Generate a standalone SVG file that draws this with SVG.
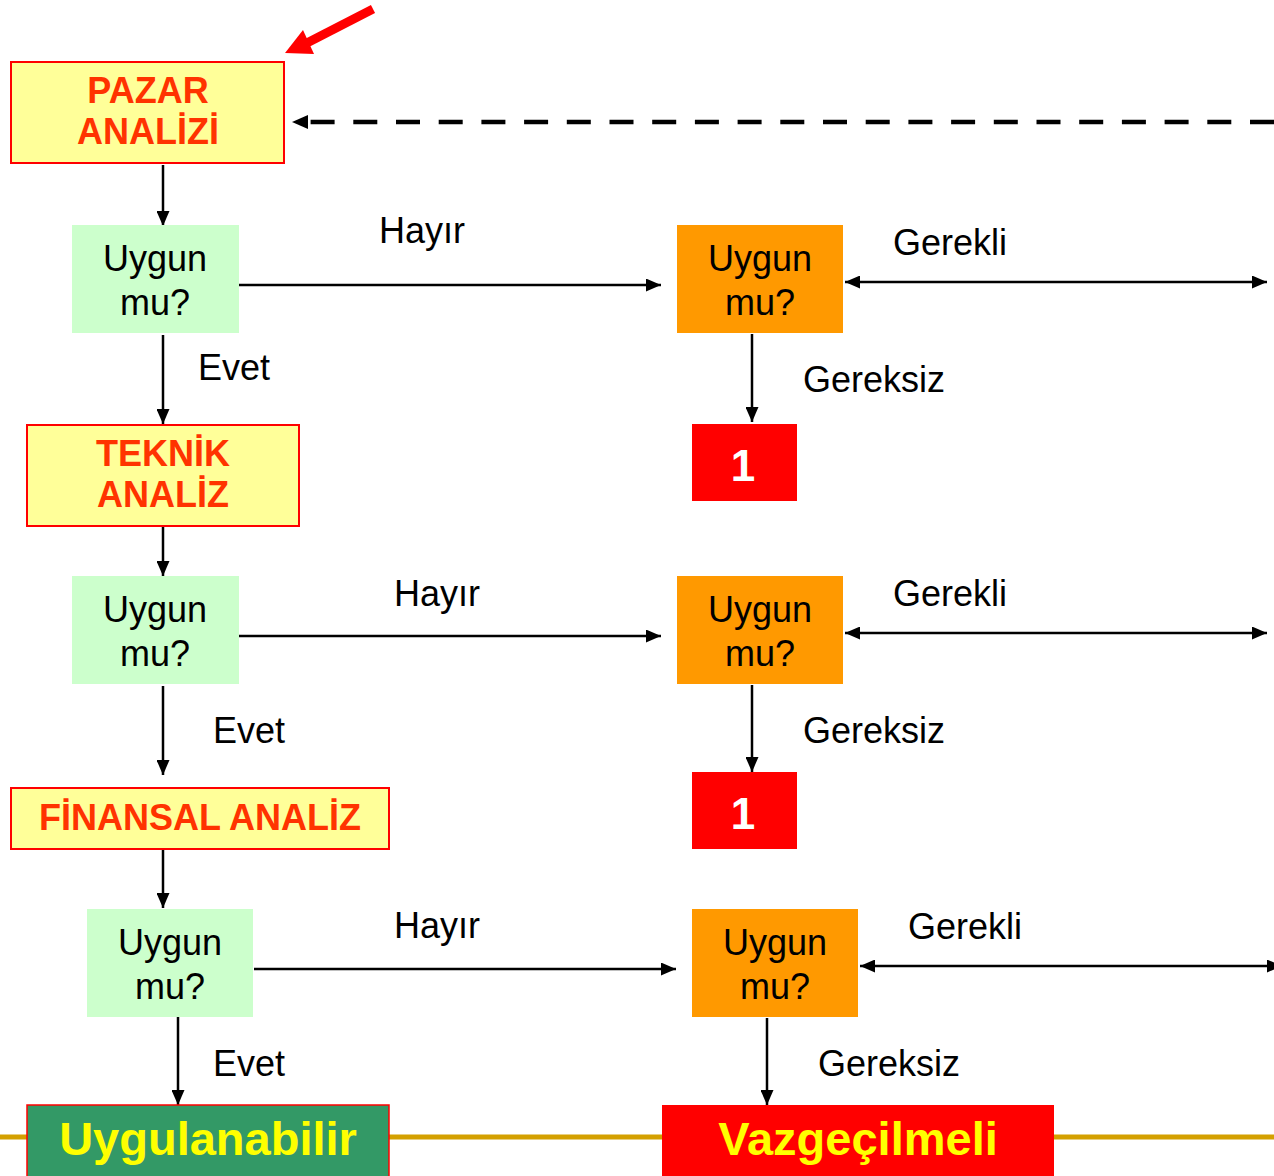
<svg xmlns="http://www.w3.org/2000/svg" width="1274" height="1176" viewBox="0 0 1274 1176">
<style>
.lbl{font-family:"Liberation Sans",Arial,sans-serif;font-size:36px;fill:#000}
.cen{text-anchor:middle}
.ana{font-family:"Liberation Sans",Arial,sans-serif;font-size:36px;font-weight:bold;fill:#FF3300;text-anchor:middle}
.big{font-family:"Liberation Sans",Arial,sans-serif;font-size:47px;font-weight:bold;fill:#FFFF00;text-anchor:middle}
.one{font-family:"Liberation Sans",Arial,sans-serif;font-size:44px;font-weight:bold;fill:#FFFFFF;text-anchor:middle}
.ybox{fill:#FFFF99;stroke:#FF0000;stroke-width:2}
.gbox{fill:#CCFFCC}
.obox{fill:#FF9900}
.rbox{fill:#FF0000}
.con{stroke:#000;stroke-width:2.5;fill:none}
</style>
<defs>
<marker id="ah" viewBox="0 0 15 13" refX="15" refY="6.5" markerWidth="15" markerHeight="13" markerUnits="userSpaceOnUse" orient="auto-start-reverse">
<path d="M0,0 L15,6.5 L0,13 Z" fill="#000"/>
</marker>
<marker id="ahd" viewBox="0 0 16 14" refX="16" refY="7" markerWidth="16" markerHeight="14" markerUnits="userSpaceOnUse" orient="auto">
<path d="M0,0 L16,7 L0,14 Z" fill="#000"/>
</marker>
</defs>

<line x1="0" y1="1137" x2="1274" y2="1137" stroke="#D4A000" stroke-width="5"/>

<g id="connectors">
<line class="con" x1="163" y1="165" x2="163" y2="226" marker-end="url(#ah)"/>
<line class="con" x1="163" y1="335" x2="163" y2="424" marker-end="url(#ah)"/>
<line class="con" x1="163" y1="527" x2="163" y2="576" marker-end="url(#ah)"/>
<line class="con" x1="163" y1="686" x2="163" y2="775" marker-end="url(#ah)"/>
<line class="con" x1="163" y1="850" x2="163" y2="908" marker-end="url(#ah)"/>
<line class="con" x1="178" y1="1017" x2="178" y2="1105" marker-end="url(#ah)"/>
<line class="con" x1="239" y1="285" x2="661" y2="285" marker-end="url(#ah)"/>
<line class="con" x1="239" y1="636" x2="661" y2="636" marker-end="url(#ah)"/>
<line class="con" x1="254" y1="969" x2="676" y2="969" marker-end="url(#ah)"/>
<line class="con" x1="845" y1="282" x2="1267" y2="282" marker-start="url(#ah)" marker-end="url(#ah)"/>
<line class="con" x1="845" y1="633" x2="1267" y2="633" marker-start="url(#ah)" marker-end="url(#ah)"/>
<line class="con" x1="860" y1="966" x2="1282" y2="966" marker-start="url(#ah)" marker-end="url(#ah)"/>
<line class="con" x1="752" y1="334" x2="752" y2="422" marker-end="url(#ah)"/>
<line class="con" x1="752" y1="685" x2="752" y2="772" marker-end="url(#ah)"/>
<line class="con" x1="767" y1="1018" x2="767" y2="1105" marker-end="url(#ah)"/>
<line x1="1274" y1="122" x2="292" y2="122" stroke="#000" stroke-width="4.5" stroke-dasharray="24 18.7" marker-end="url(#ahd)"/>
<line x1="373" y1="9" x2="303" y2="45" stroke="#FF0000" stroke-width="9"/>
<polygon points="285,53 303,30 314,54" fill="#FF0000"/>
</g>

<g id="pazar"><rect class="ybox" x="11" y="62" width="273" height="101"/><text class="ana" x="148" y="103">PAZAR</text><text class="ana" x="148" y="144">ANALİZİ</text></g>
<g id="uygun1"><rect class="gbox" x="72" y="225" width="167" height="108"/><text class="lbl cen" x="155" y="271">Uygun</text><text class="lbl cen" x="155" y="315">mu?</text></g>
<g id="teknik"><rect class="ybox" x="27" y="425" width="272" height="101"/><text class="ana" x="163" y="466">TEKNİK</text><text class="ana" x="163" y="507">ANALİZ</text></g>
<g id="uygun2"><rect class="gbox" x="72" y="576" width="167" height="108"/><text class="lbl cen" x="155" y="622">Uygun</text><text class="lbl cen" x="155" y="666">mu?</text></g>
<g id="finansal"><rect class="ybox" x="11" y="788" width="378" height="61"/><text class="ana" x="200" y="830">FİNANSAL ANALİZ</text></g>
<g id="uygun3"><rect class="gbox" x="87" y="909" width="166" height="108"/><text class="lbl cen" x="170" y="955">Uygun</text><text class="lbl cen" x="170" y="999">mu?</text></g>
<g id="uygulanabilir"><rect x="27" y="1105" width="362" height="75" fill="#339966" stroke="#FF0000" stroke-width="1.5"/><text class="big" x="208" y="1155">Uygulanabilir</text></g>

<g id="ouygun1"><rect class="obox" x="677" y="225" width="166" height="108"/><text class="lbl cen" x="760" y="271">Uygun</text><text class="lbl cen" x="760" y="315">mu?</text></g>
<g id="ouygun2"><rect class="obox" x="677" y="576" width="166" height="108"/><text class="lbl cen" x="760" y="622">Uygun</text><text class="lbl cen" x="760" y="666">mu?</text></g>
<g id="ouygun3"><rect class="obox" x="692" y="909" width="166" height="108"/><text class="lbl cen" x="775" y="955">Uygun</text><text class="lbl cen" x="775" y="999">mu?</text></g>
<g id="one1"><rect class="rbox" x="692" y="424" width="105" height="77"/><text class="one" x="743" y="481">1</text></g>
<g id="one2"><rect class="rbox" x="692" y="772" width="105" height="77"/><text class="one" x="743" y="829">1</text></g>
<g id="vazgecilmeli"><rect class="rbox" x="662" y="1105" width="392" height="75"/><text class="big" x="858" y="1155">Vazgeçilmeli</text></g>

<g id="labels">
<text class="lbl" x="379" y="243">Hayır</text>
<text class="lbl" x="394" y="606">Hayır</text>
<text class="lbl" x="394" y="938">Hayır</text>
<text class="lbl" x="198" y="380">Evet</text>
<text class="lbl" x="213" y="743">Evet</text>
<text class="lbl" x="213" y="1076">Evet</text>
<text class="lbl" x="893" y="255">Gerekli</text>
<text class="lbl" x="893" y="606">Gerekli</text>
<text class="lbl" x="908" y="939">Gerekli</text>
<text class="lbl" x="803" y="392">Gereksiz</text>
<text class="lbl" x="803" y="743">Gereksiz</text>
<text class="lbl" x="818" y="1076">Gereksiz</text>
</g>
</svg>
